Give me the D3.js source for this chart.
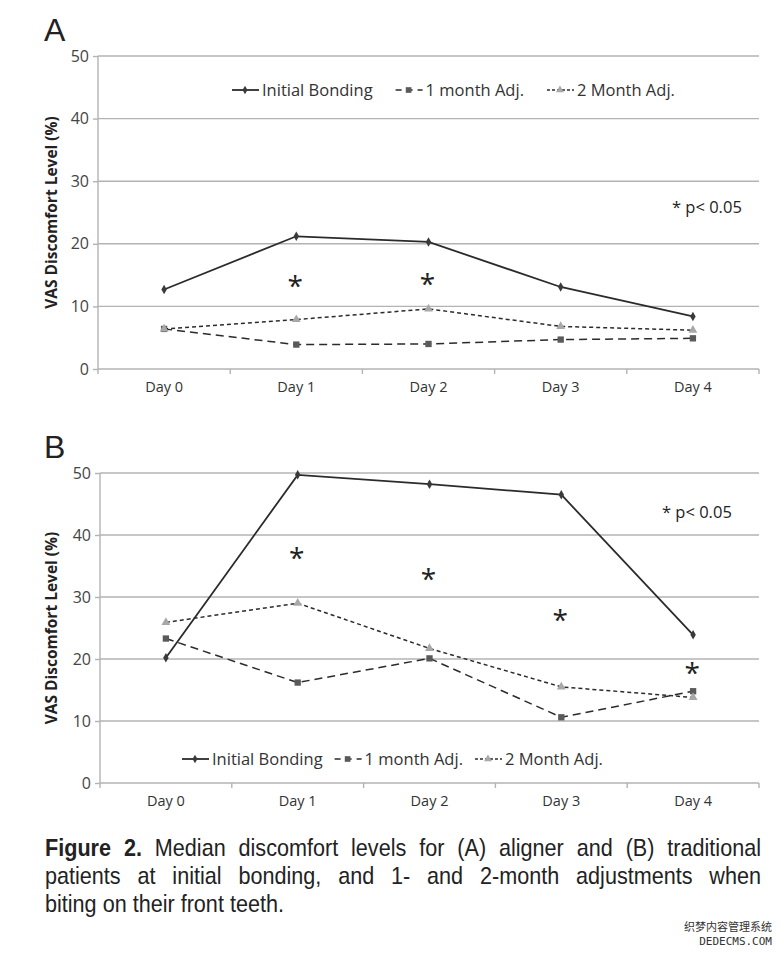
<!DOCTYPE html>
<html>
<head>
<meta charset="utf-8">
<script src="https://cdn.jsdelivr.net/npm/d3@7"></script>
<style>
  body { margin: 0; background: #fff; }
</style>
</head>
<body>
<svg id="chart" width="782" height="953"></svg>
<script>
var days = ["Day 0", "Day 1", "Day 2", "Day 3", "Day 4"]
var yTicks = [0, 10, 20, 30, 40, 50]
var seriesNames = ["Initial Bonding", "1 month Adj.", "2 Month Adj."]

// panel A (aligner)
var aInitial = [12.7, 21.2, 20.3, 13.1, 8.4]
var aMonth1 = [6.4, 3.9, 4.0, 4.7, 4.9]
var aMonth2 = [6.4, 7.9, 9.6, 6.8, 6.2]
var aStars = ["Day 1", "Day 2"]
var aStarY = [13.8, 14.1]

// panel B (traditional)
var bInitial = [20.2, 49.7, 48.2, 46.5, 23.9]
var bMonth1 = [23.3, 16.2, 20.1, 10.6, 14.8]
var bMonth2 = [25.9, 29.0, 21.7, 15.5, 13.8]
var bStars = ["Day 1", "Day 2", "Day 3", "Day 4"]
var bStarY = [36.7, 33.4, 26.7, 18.3]

var captionLines = [
  ["Figure 2.", " Median discomfort levels for (A) aligner and (B) traditional"],
  ["", "patients at initial bonding, and 1- and 2-month adjustments when"],
  ["", "biting on their front teeth."]
]

var styles = [
  {color: "#2b2b2b", dash: null, width: 1.8, marker: "diamond", mcolor: "#3a3a3a", msize: 26},
  {color: "#2b2b2b", dash: "8,5", width: 1.5, marker: "square", mcolor: "#5a5a5a", msize: 40},
  {color: "#2b2b2b", dash: "4,3", width: 1.5, marker: "triangle", mcolor: "#a8a8a8", msize: 34}
]

var svg = d3.select("#chart")
var font = "'Open Sans', 'DejaVu Sans', sans-serif"

function panel(opt) {
  var g = svg.append("g")

  var x = d3.scaleBand().domain(days).range([opt.left, opt.right])
  var y = d3.scaleLinear().domain([0, 50]).range([opt.bottom, opt.top])

  // gridlines
  g.selectAll(".grid").data(yTicks).enter().append("line")
    .attr("x1", opt.left).attr("x2", opt.right)
    .attr("y1", d => y(d)).attr("y2", d => y(d))
    .attr("stroke", "#b3b3b3").attr("stroke-width", 1.4)

  g.append("line")
    .attr("x1", opt.left).attr("x2", opt.left)
    .attr("y1", y(50)).attr("y2", y(0))
    .attr("stroke", "#b3b3b3").attr("stroke-width", 1.4)

  var yAxis = g.append("g")
    .attr("transform", `translate(${opt.left},0)`)
    .call(d3.axisLeft(y).tickValues(yTicks).tickSize(5).tickPadding(4))
  yAxis.select(".domain").remove()
  yAxis.selectAll("line").attr("stroke", "#b3b3b3").attr("stroke-width", 1.4)
  yAxis.selectAll("text").attr("font-family", font).attr("font-size", 16).attr("fill", "#444")

  var xAxis = g.append("g")
    .attr("transform", `translate(0,${opt.bottom})`)
    .call(d3.axisBottom(x).tickSize(0).tickPadding(13))
  xAxis.select(".domain").remove()
  xAxis.selectAll("text").attr("font-family", font).attr("font-size", 14.5).attr("fill", "#333")
  var edges = days.map(d => x(d)).concat([opt.right])
  g.selectAll(".xt").data(edges).enter().append("line")
    .attr("x1", d => d).attr("x2", d => d)
    .attr("y1", opt.bottom).attr("y2", opt.bottom + 5)
    .attr("stroke", "#b3b3b3").attr("stroke-width", 1.4)

  var cx = d => x(d) + x.bandwidth() / 2

  var line = d3.line().x((d, i) => cx(days[i])).y(d => y(d))
  var symbols = {diamond: d3.symbolDiamond, square: d3.symbolSquare, triangle: d3.symbolTriangle}

  opt.series.forEach(function(vals, k) {
    var s = styles[k]
    g.append("path").datum(vals)
      .attr("d", line).attr("fill", "none")
      .attr("stroke", s.color).attr("stroke-width", s.width)
      .attr("stroke-dasharray", s.dash)
    g.selectAll(".m" + k).data(vals).enter().append("path")
      .attr("transform", (d, i) => `translate(${cx(days[i])},${y(d)})`)
      .attr("d", d3.symbol().type(symbols[s.marker]).size(s.msize))
      .attr("fill", s.mcolor)
  })

  g.selectAll(".star").data(opt.stars).enter().append("text")
    .attr("x", d => cx(d) - 1)
    .attr("y", (d, i) => y(opt.starY[i]) + 13)
    .attr("text-anchor", "middle")
    .attr("font-family", font).attr("font-size", 28).attr("fill", "#222")
    .text("*")

  g.append("text")
    .attr("x", opt.pX).attr("y", opt.pY)
    .attr("font-family", font).attr("font-size", 16.5).attr("fill", "#222")
    .text("* p< 0.05")

  // legend
  var lx = opt.legX
  seriesNames.forEach(function(name, k) {
    var s = styles[k]
    var lg = g.append("g").attr("transform", `translate(${lx},${opt.legY})`)
    lg.append("line").attr("x1", 0).attr("x2", 27).attr("y1", 0).attr("y2", 0)
      .attr("stroke", s.color).attr("stroke-width", s.width)
      .attr("stroke-dasharray", k == 1 ? "6,5" : k == 2 ? "3,2" : null)
    lg.append("path").attr("transform", "translate(13,0)")
      .attr("d", d3.symbol().type(symbols[s.marker]).size(s.msize * 0.8))
      .attr("fill", s.mcolor)
    var t = lg.append("text").attr("x", 30).attr("y", 5.5)
      .attr("font-family", font).attr("font-size", 16.5).attr("fill", "#333")
      .text(name)
    lx += 30 + t.node().getComputedTextLength() + opt.legGap
  })

  g.append("text")
    .attr("transform", `translate(57,${(opt.top + opt.bottom) / 2}) rotate(-90)`)
    .attr("text-anchor", "middle")
    .attr("font-family", font).attr("font-size", 15.5).attr("font-weight", "bold").attr("fill", "#222")
    .text("VAS Discomfort Level (%)")

  g.append("text")
    .attr("x", 44).attr("y", opt.top - 15)
    .attr("font-family", "'Liberation Sans', Arial, sans-serif").attr("font-size", 32).attr("fill", "#222")
    .text(opt.letter)
}

panel({letter: "A", left: 98, right: 759, top: 56, bottom: 369,
  series: [aInitial, aMonth1, aMonth2], stars: aStars, starY: aStarY,
  pX: 672, pY: 213, legX: 232, legY: 90, legGap: 23})

panel({letter: "B", left: 100, right: 759, top: 473, bottom: 783,
  series: [bInitial, bMonth1, bMonth2], stars: bStars, starY: bStarY,
  pX: 662, pY: 518, legX: 182, legY: 759, legGap: 12})

// caption, slightly condensed and justified
var squeeze = 0.9, capW = 716 / squeeze
var cap = svg.append("g").attr("transform", `translate(45,0) scale(${squeeze},1)`)
captionLines.forEach(function(parts, i) {
  var t = cap.append("text").attr("x", 0).attr("y", 856 + i * 28)
    .attr("font-family", "'Liberation Sans', Arial, sans-serif")
    .attr("font-size", 24).attr("fill", "#222")
  if (parts[0]) t.append("tspan").attr("font-weight", "bold").text(parts[0])
  t.append("tspan").text(parts[1])
  if (i < captionLines.length - 1) {
    var spaces = (parts[0] + parts[1]).split(" ").length - 1
    var extra = (capW - t.node().getComputedTextLength()) / spaces
    t.attr("word-spacing", extra)
  }
})

// watermark
svg.append("text").attr("x", 772).attr("y", 931).attr("text-anchor", "end")
  .attr("font-family", "'Noto Sans CJK SC', sans-serif").attr("font-size", 11).attr("fill", "#333")
  .text("织梦内容管理系统")
svg.append("text").attr("x", 772).attr("y", 945).attr("text-anchor", "end")
  .attr("font-family", "'DejaVu Sans Mono', monospace").attr("font-size", 11).attr("fill", "#333")
  .text("DEDECMS.COM")
</script>
</body>
</html>
